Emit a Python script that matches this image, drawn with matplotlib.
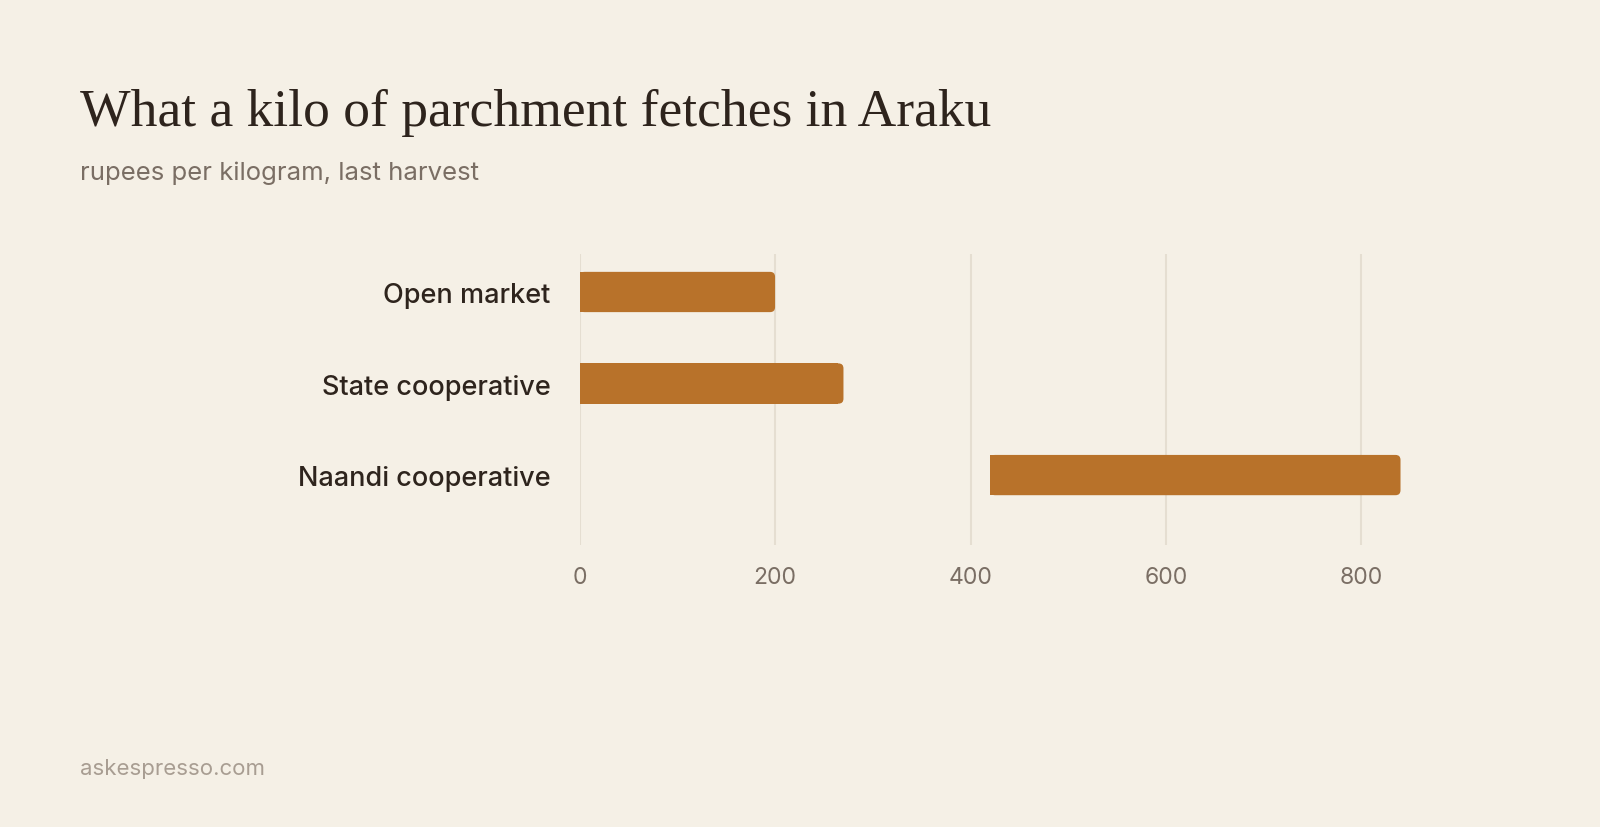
import matplotlib
matplotlib.use("Agg")
import matplotlib.pyplot as plt
from matplotlib.patches import FancyBboxPatch

categories = ["Open market", "State cooperative", "Naandi cooperative"]
starts = [0, 0, 420]
ends = [200, 270, 840]
ticks = [0, 200, 400, 600, 800]
tick_labels = ["0", "200", "400", "600", "800"]

BG = "#f5f0e6"
BAR = "#b8722a"
GRID = "#e5ded1"
DARK = "#2e241d"
MUTED = "#7a6e64"
FOOT = "#a89d92"

W, H = 1600, 828
fig = plt.figure(figsize=(W / 100, H / 100), dpi=100, facecolor=BG)

x0, x1 = 579.6, 1439.6
y_top, y_bot = 255, 546
ax = fig.add_axes([x0 / W, 1 - y_bot / H, (x1 - x0) / W, (y_bot - y_top) / H])
ax.set_facecolor(BG)

XMAX = 880
YLO, YHI = -0.415, 2.764
ax.set_xlim(0, XMAX)
ax.set_ylim(YHI, YLO)

ypos = list(range(len(categories)))
bh = 0.44
ux = XMAX / (x1 - x0)
uy = (YHI - YLO) / (y_bot - y_top)
r_px = 5
rx = r_px * ux
for y, s, e in zip(ypos, starts, ends):
    ax.barh(y, (e - s) - rx, left=s, height=bh, color=BAR, linewidth=0, zorder=3)
    p = FancyBboxPatch((s, y - bh / 2), e - s, bh,
                       boxstyle=f"round,pad=0,rounding_size={rx}",
                       mutation_aspect=uy / ux,
                       facecolor=BAR, edgecolor="none", zorder=3)
    ax.add_patch(p)

ax.set_xticks(ticks)
ax.set_xticklabels(tick_labels)
ax.set_yticks(ypos)
ax.set_yticklabels(categories)
ax.grid(axis="x", color=GRID, linewidth=1.5, zorder=0)
ax.grid(axis="y", visible=False)
for s in ax.spines.values():
    s.set_visible(False)
ax.tick_params(axis="x", length=0, pad=15, labelsize=16.5, labelcolor=MUTED)
ax.tick_params(axis="y", length=0, pad=21, labelsize=19.5, labelcolor=DARK)
for lab in ax.get_xticklabels():
    lab.set_fontfamily("Inter")
for lab in ax.get_yticklabels():
    lab.set_fontfamily("Inter")
    lab.set_fontweight("medium")

fig.text(80 / W, 1 - 126 / H, "What a kilo of parchment fetches in Araku",
         fontfamily="Liberation Serif", fontsize=38.5, color=DARK,
         ha="left", va="baseline")
fig.text(80 / W, 1 - 173 / H, "rupees per kilogram, last harvest",
         fontfamily="Inter", fontsize=18.5, color=MUTED, ha="left", va="center")
fig.text(80 / W, 1 - 769 / H, "askespresso.com",
         fontfamily="Inter", fontsize=16, color=FOOT, ha="left", va="center")

fig.savefig("out.png", dpi=100, facecolor=BG)
